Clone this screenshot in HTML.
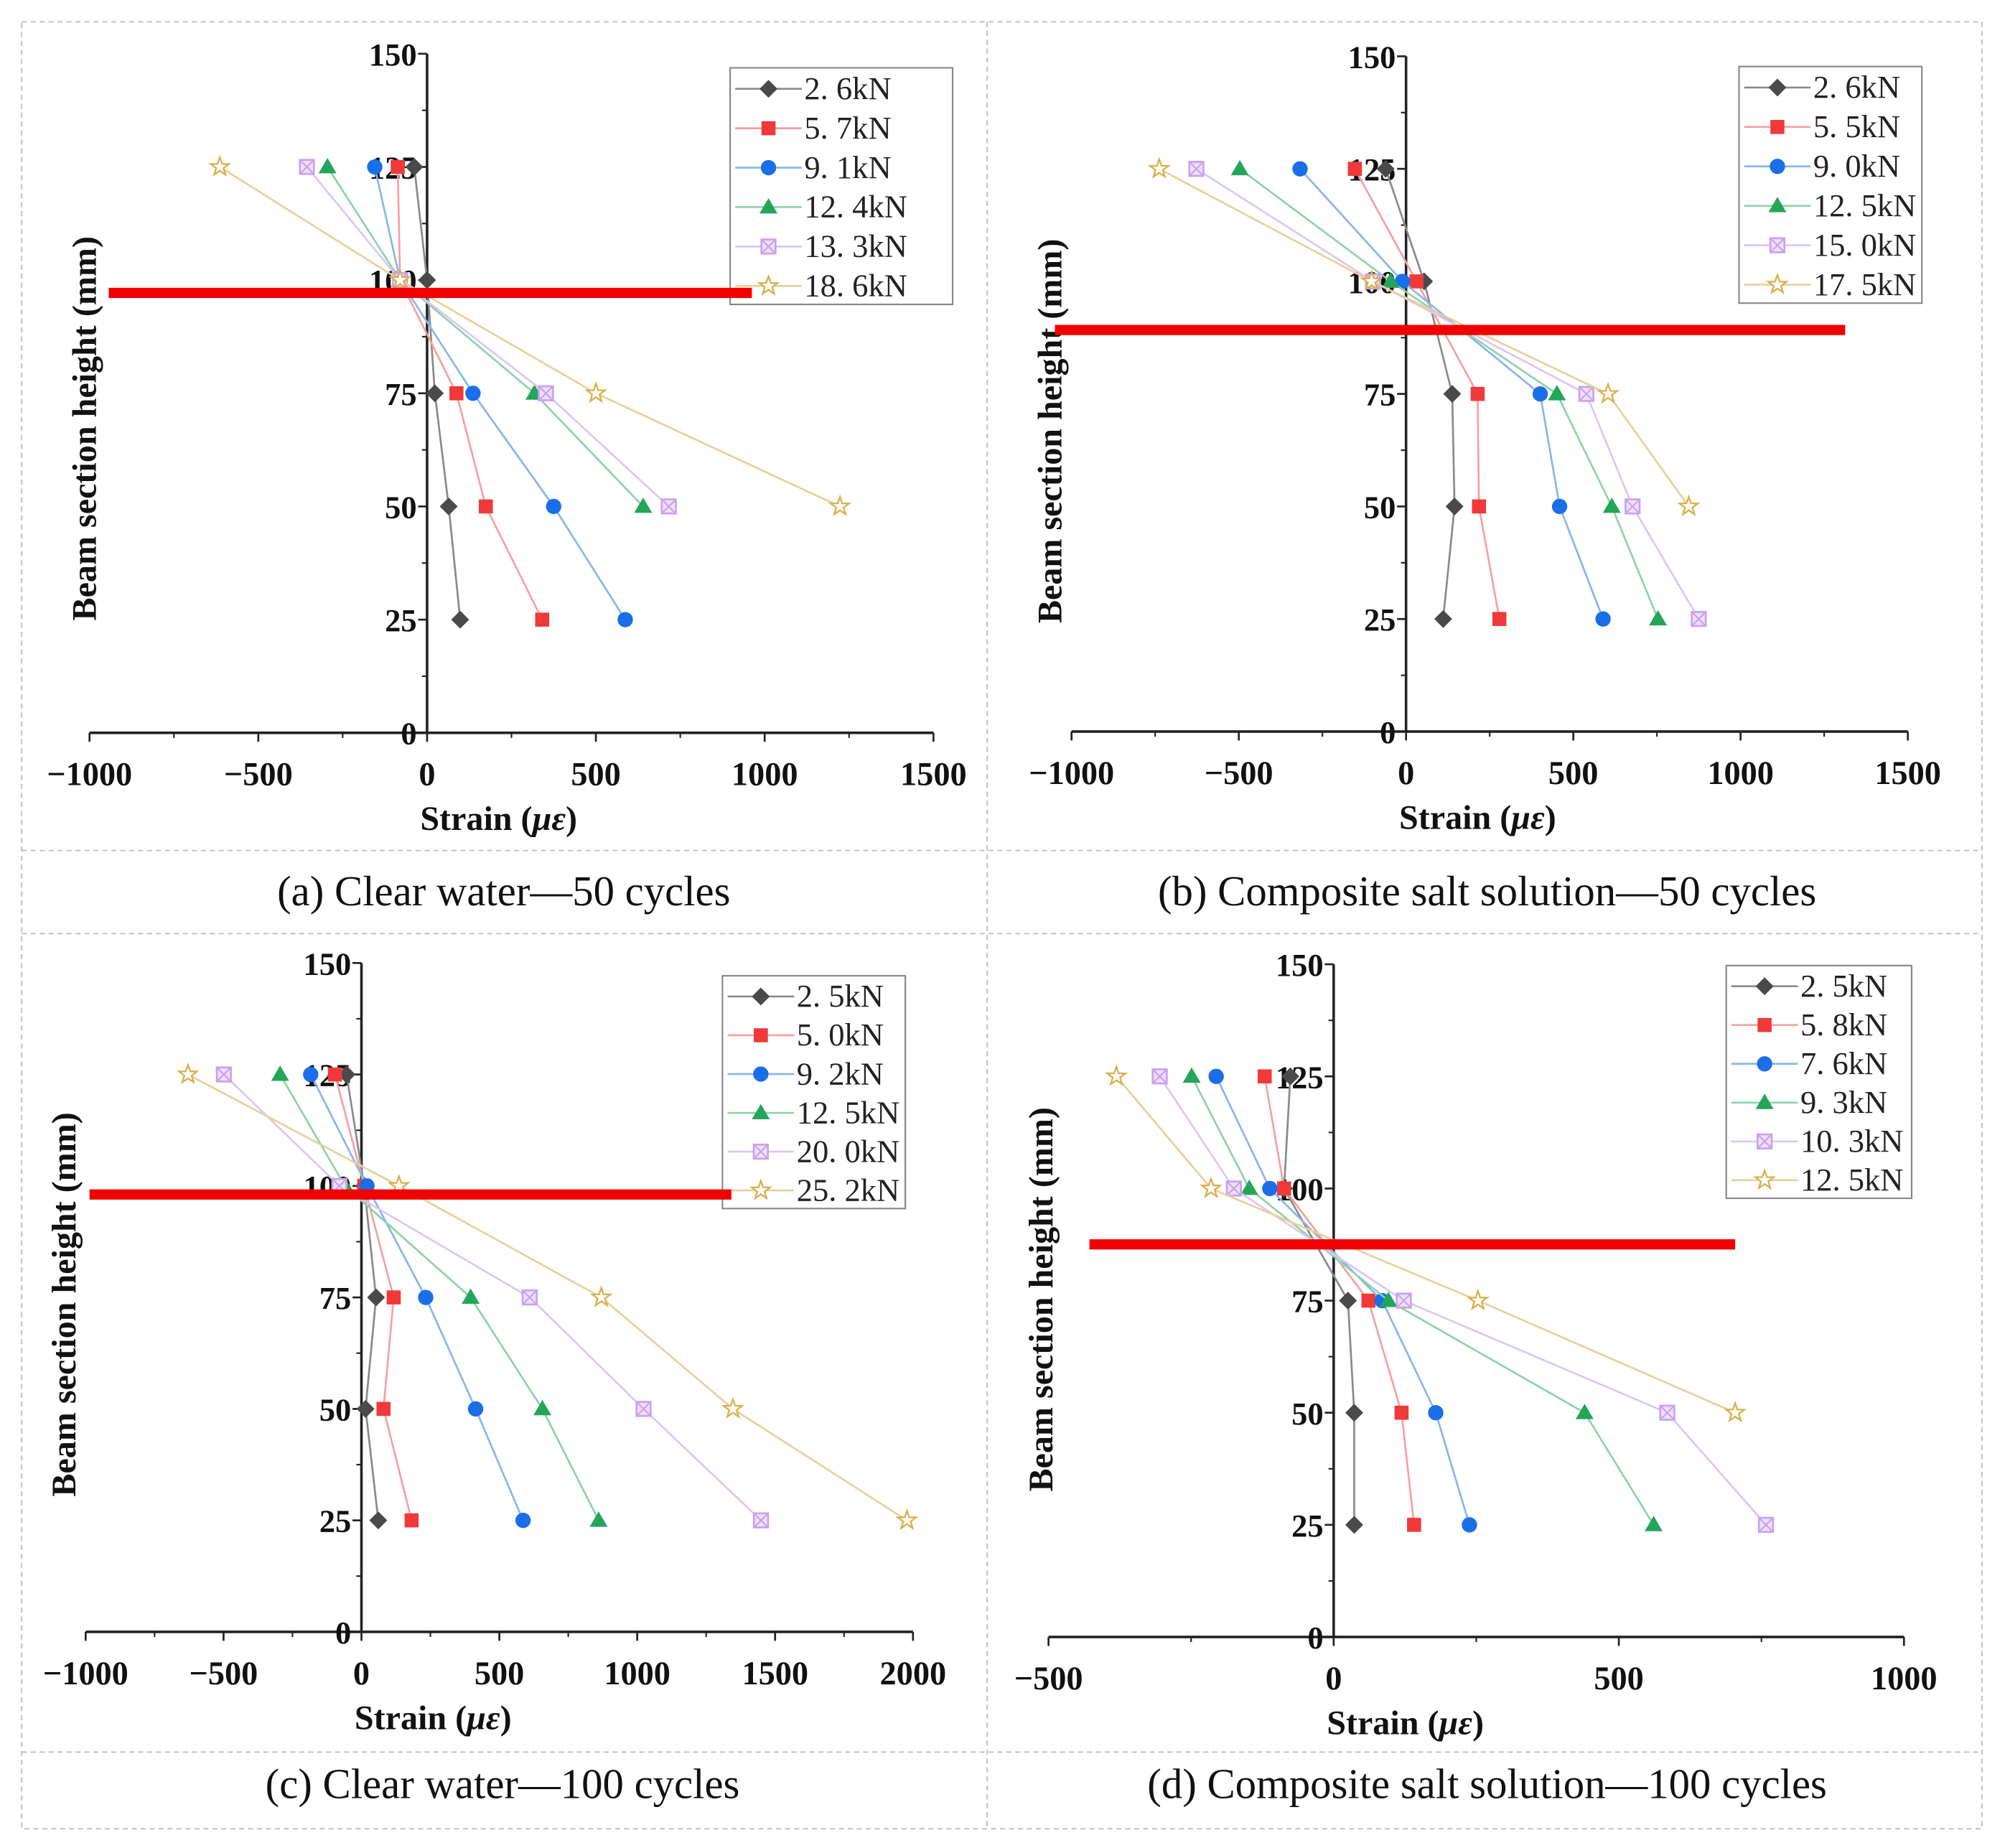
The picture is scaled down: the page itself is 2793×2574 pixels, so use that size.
<!DOCTYPE html>
<html><head><meta charset="utf-8"><style>
html,body{margin:0;padding:0;background:#fff;}
svg{display:block;}
text{font-family:"Liberation Serif",serif;}
</style></head><body>
<svg id="fig" width="2793" height="2574" viewBox="0 0 1568 1445" xmlns="http://www.w3.org/2000/svg">
<g fill="none" stroke="#bbb" stroke-width="1" stroke-dasharray="4,3">
<rect x="17" y="17" width="1533" height="1413"/>
<line x1="772" y1="17" x2="772" y2="1430"/>
<line x1="17" y1="665" x2="1550" y2="665"/>
<line x1="17" y1="730" x2="1550" y2="730"/>
<line x1="17" y1="1370" x2="1550" y2="1370"/>
</g>
<g font-size="33" text-anchor="middle" fill="#111">
<text x="394" y="708">(a) Clear water—50 cycles</text>
<text x="1163" y="708">(b) Composite salt solution—50 cycles</text>
<text x="393" y="1406">(c) Clear water—100 cycles</text>
<text x="1163" y="1406">(d) Composite salt solution—100 cycles</text>
</g>
</svg>
<script>
const heights=[125,100,75,50,25];
const aLabels=["2. 6kN","5. 7kN","9. 1kN","12. 4kN","13. 3kN","18. 6kN"];
const a1=[-38,0,23,64,98];
const a2=[-87,-80,87,174,341];
const a3=[-155,-80,136,375,587];
const a4=[-295,-80,318,640,null];
const a5=[-356,-80,352,716,null];
const a6=[-614,-80,500,1223,null];
const bLabels=["2. 6kN","5. 5kN","9. 0kN","12. 5kN","15. 0kN","17. 5kN"];
const b1=[-61,54,138,145,111];
const b2=[-153,31,214,218,279];
const b3=[-317,-11,401,459,589];
const b4=[-497,-46,451,615,753];
const b5=[-627,-99,539,677,875];
const b6=[-738,-103,604,845,null];
const cLabels=["2. 5kN","5. 0kN","9. 2kN","12. 5kN","20. 0kN","25. 2kN"];
const c1=[-54,10,53,15,61];
const c2=[-96,10,117,80,182];
const c3=[-184,20,233,414,586];
const c4=[-295,-60,396,656,860];
const c5=[-499,-80,610,1023,1449];
const c6=[-629,136,870,1347,1978];
const dLabels=["2. 5kN","5. 8kN","7. 6kN","9. 3kN","10. 3kN","12. 5kN"];
const d1=[-76,-87,25,36,36];
const d2=[-121,-87,61,119,141];
const d3=[-206,-112,85,179,238];
const d4=[-249,-148,96,440,561];
const d5=[-305,-175,123,585,758];
const d6=[-381,-215,253,704,null];
const aTicks=[-1000,-500,0,500,1000,1500];
const bTicks=[-1000,-500,0,500,1000,1500];
const cTicks=[-1000,-500,0,500,1000,1500,2000];
const dTicks=[-500,0,500,1000];
const yTicks=[0,25,50,75,100,125,150];

const NS="http://www.w3.org/2000/svg";
const svg=document.getElementById('fig');
function mk(tag,attrs,parent){const e=document.createElementNS(NS,tag);for(const k in attrs)e.setAttribute(k,attrs[k]);(parent||svg).appendChild(e);return e;}
const colors=["#4a4a4a","#f03a3a","#1a6ee8","#23a65a","#c9a2ee","#d8b04c"];
const lineColors=["#8a8a8a","#f6a0a0","#8ab4f0","#8ed3a8","#dcc6f5","#e8d09a"];

function marker(g,k,x,y){
  let e;
  if(k===0){e=mk('polygon',{points:`${x},${y-7} ${x+7},${y} ${x},${y+7} ${x-7},${y}`,fill:colors[0]},g);}
  else if(k===1){e=mk('rect',{x:x-5.5,y:y-5.5,width:11,height:11,fill:colors[1]},g);}
  else if(k===2){e=mk('circle',{cx:x,cy:y,r:6,fill:colors[2]},g);}
  else if(k===3){e=mk('polygon',{points:`${x},${y-7} ${x+7},${y+5} ${x-7},${y+5}`,fill:colors[3]},g);}
  else if(k===4){e=mk('g',{},g);mk('rect',{x:x-5.5,y:y-5.5,width:11,height:11,fill:"#eee0fb",stroke:colors[4],'stroke-width':1.5},e);mk('path',{d:`M${x-5} ${y-5}L${x+5} ${y+5}M${x+5} ${y-5}L${x-5} ${y+5}`,stroke:colors[4],'stroke-width':1.2},e);}
  else {let p=[];for(let i=0;i<10;i++){const r=i%2?3:7.5;const a=-Math.PI/2+i*Math.PI/5;p.push((x+r*Math.cos(a)).toFixed(1)+","+(y+r*Math.sin(a)).toFixed(1));}
    e=mk('polygon',{points:p.join(' '),fill:"#fff",stroke:colors[5],'stroke-width':1.3},g);}
  
  
}

function panel(cfg){
  const g=mk('g',{});
  
  
  const sx=v=>cfg.x0+(v-cfg.xmin)/(cfg.xmax-cfg.xmin)*(cfg.x1-cfg.x0);
  const sy=v=>cfg.y0-(v/150)*(cfg.y0-cfg.y1);
  const X0=sx(0);
  const xa=mk('g',{},g);
  
  
  mk('line',{x1:cfg.x0,y1:cfg.y0,x2:cfg.x1,y2:cfg.y0,stroke:"#222",'stroke-width':2},xa);
  const step=cfg.ticks[1]-cfg.ticks[0];
  cfg.ticks.forEach((t,i)=>{
    const x=sx(t);
    mk('line',{x1:x,y1:cfg.y0,x2:x,y2:cfg.y0+7,stroke:"#222",'stroke-width':1.5},xa);
    if(i<cfg.ticks.length-1){const xm=sx(t+step/2);mk('line',{x1:xm,y1:cfg.y0,x2:xm,y2:cfg.y0+4,stroke:"#222",'stroke-width':1.2},xa);}
    const tx=mk('text',{x:x,y:cfg.y0+41,'font-size':26,'font-weight':'bold','text-anchor':'middle',fill:"#111"},xa);
    tx.textContent=(t<0?"\u2212"+(-t):t);
    
    
  });
  const xt=mk('text',{x:X0+56,y:cfg.y0+76,'font-size':27,'font-weight':'bold','text-anchor':'middle',fill:"#111"},g);
  xt.innerHTML='Strain (<tspan font-style="italic">με</tspan>)';
  
  
  const ya=mk('g',{},g);
  
  
  mk('line',{x1:X0,y1:cfg.y0,x2:X0,y2:cfg.y1,stroke:"#222",'stroke-width':2},ya);
  yTicks.forEach((t,i)=>{
    const y=sy(t);
    mk('line',{x1:X0-7,y1:y,x2:X0,y2:y,stroke:"#222",'stroke-width':1.5},ya);
    if(i<yTicks.length-1){const ym=sy(t+12.5);mk('line',{x1:X0-4,y1:ym,x2:X0,y2:ym,stroke:"#222",'stroke-width':1.2},ya);}
    const tx=mk('text',{x:X0-8,y:y+9,'font-size':25,'font-weight':'bold','text-anchor':'end',fill:"#111"},ya);
    tx.textContent=t;
    
    
  });
  const yt=mk('text',{x:0,y:0,'font-size':27,'font-weight':'bold','text-anchor':'middle',fill:"#111",transform:`translate(${cfg.ylx},${cfg.ylc}) rotate(-90)`},g);
  yt.textContent='Beam section height (mm)';
  
  
  cfg.series.forEach((s,k)=>{
    const sg=mk('g',{},g);
    
    
    const pts=[];
    s.forEach((v,i)=>{if(v!==null)pts.push([sx(v),sy(heights[i])]);});
    const pl=mk('polyline',{points:pts.map(p=>p.join(',')).join(' '),fill:'none',stroke:lineColors[k],'stroke-width':1.5},sg);
    
    
    pts.forEach(p=>marker(sg,k,p[0],p[1]));
  });
  const L=cfg.leg;
  const lg=mk('g',{},g);
  
  
  mk('rect',{x:L[0],y:L[1],width:L[2],height:L[3],fill:"#fff",stroke:"#888",'stroke-width':1.2},lg);
  const rh=L[3]/6;
  cfg.labels.forEach((lab,k)=>{
    const y=L[1]+rh*(k+0.5)+1;
    const eg=mk('g',{},lg);
    
    
    mk('line',{x1:L[0]+4,y1:y,x2:L[0]+56,y2:y,stroke:lineColors[k],'stroke-width':1.5},eg);
    marker(eg,k,L[0]+30,y);
    const t=mk('text',{x:L[0]+58,y:y+8,'font-size':25,fill:"#222"},eg);
    t.textContent=lab;
  });
  const rl=mk('line',{x1:cfg.red[0],y1:cfg.red[2],x2:cfg.red[1],y2:cfg.red[2],stroke:"#f00000",'stroke-width':8},g);
  
  
}
panel({id:'a',x0:70,x1:730,xmin:-1000,xmax:1500,y0:573,y1:42,ticks:aTicks,ylx:75,ylc:335,labels:aLabels,series:[a1,a2,a3,a4,a5,a6],red:[85,588,229],leg:[571,53,174,185]});
panel({id:'b',x0:838,x1:1492,xmin:-1000,xmax:1500,y0:572,y1:44,ticks:bTicks,ylx:830,ylc:337,labels:bLabels,series:[b1,b2,b3,b4,b5,b6],red:[825,1443,258],leg:[1360,52,143,185]});
panel({id:'c',x0:67,x1:714,xmin:-1000,xmax:2000,y0:1276,y1:753,ticks:cTicks,ylx:59,ylc:1020,labels:cLabels,series:[c1,c2,c3,c4,c5,c6],red:[70,572,934],leg:[565,763,143,182]});
panel({id:'d',x0:820,x1:1489,xmin:-500,xmax:1000,y0:1280,y1:754,ticks:dTicks,ylx:823,ylc:1016,labels:dLabels,series:[d1,d2,d3,d4,d5,d6],red:[852,1357,973],leg:[1350,755,145,182]});
</script>
</body></html>
